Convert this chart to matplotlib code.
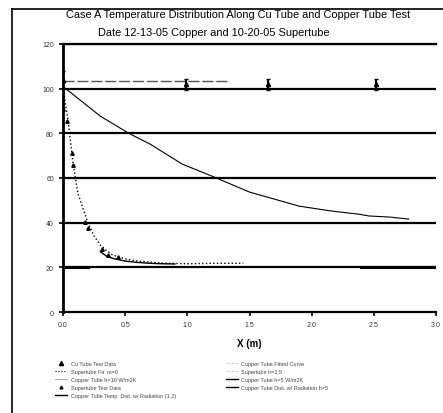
import matplotlib
matplotlib.use("Agg")
import matplotlib.pyplot as plt
from matplotlib.lines import Line2D

plt.rcParams['font.family'] = ['Liberation Sans', 'DejaVu Sans']

title_1 = "Case A Temperature Distribution Along Cu Tube and Copper Tube Test"
title_2 = "Date 12-13-05 Copper and 10-20-05 Supertube"
xlabel = "X (m)"
xticks = [0, 0.5, 1, 1.5, 2, 2.5, 3]
xticklabels = ["0.0", "0.5", "1.0", "1.5", "2.0", "2.5", "3.0"]
yticks = [0, 20, 40, 60, 80, 100, 120]

# Supertube test data (with error bars)
st_x = [0.0, 0.99, 1.65, 2.52]
st_y = [104.0, 102.0, 102.0, 102.0]
st_err = [4.0, 2.5, 2.5, 2.5]

# Cu tube test data
cu_x = [0.0, 0.03, 0.07, 0.08, 0.18, 0.20, 0.31, 0.36, 0.44]
cu_y = [91.0, 85.5, 71.0, 66.0, 40.5, 37.5, 28.0, 25.5, 24.5]

# Copper tube fitted curve (dotted)
cf_x = [0.0, 0.04, 0.08, 0.12, 0.16, 0.20, 0.25, 0.30, 0.35, 0.40, 0.50, 0.60, 0.80, 1.00, 1.20, 1.45]
cf_y = [100.0, 86.0, 67.0, 53.0, 46.5, 40.0, 34.0, 30.0, 27.5, 25.5, 23.8, 22.8, 21.9, 21.6, 21.8, 21.8]

# Copper tube equation (solid)
ce_x = [0.30, 0.35, 0.40, 0.50, 0.60, 0.70, 0.80, 0.90]
ce_y = [27.0, 25.0, 24.0, 22.8, 22.2, 21.8, 21.6, 21.5]

# Supertube fit (horizontal)
sf_x = [0.0, 1.32]
sf_y = [103.5, 103.5]

# Supertube fin curve (exponential decay)
sc_x = [0.0, 0.30, 0.53, 0.70, 0.96, 1.20, 1.50, 1.90, 2.16, 2.38, 2.46, 2.63, 2.78]
sc_y = [101.0, 87.7, 80.0, 75.2, 66.2, 60.8, 53.7, 47.4, 45.2, 43.8, 43.0, 42.5, 41.6]

# Ambient / reference lines
amb_x = [2.4, 3.0]
amb_y = [20.0, 20.0]
amb2_x = [0.0, 0.2]
amb2_y = [20.0, 20.0]

fig = plt.figure(figsize=(4.43, 4.14), dpi=100)
ax = fig.add_axes([63/443, 1-313/414, (436-63)/443, (313-45)/414])

for yv in yticks[1:]:
    ax.axhline(yv, color='black', lw=1.6, zorder=1)

ax.errorbar(st_x, st_y, yerr=st_err, fmt='^', color='black', ms=3, capsize=1.5, elinewidth=1.5, zorder=4)
ax.plot(cu_x, cu_y, '^', color='black', ms=2.5, zorder=4)
ax.plot(cf_x, cf_y, ':', color='black', lw=1.0, zorder=3)
ax.plot(ce_x, ce_y, '-', color='black', lw=1.0, zorder=3)
ax.plot(sf_x, sf_y, '--', color='#555555', lw=1.0, dashes=(8, 2), zorder=3)
ax.plot(sc_x, sc_y, '-', color='black', lw=0.8, zorder=3)
ax.plot(amb_x, amb_y, '-', color='black', lw=2.2, zorder=3)
ax.plot(amb2_x, amb2_y, '-', color='black', lw=2.2, zorder=3)

ax.set_xlim(0, 3)
ax.set_ylim(0, 120)
ax.set_xticks(xticks)
ax.set_xticklabels(xticklabels)
ax.set_yticks(yticks)
ax.tick_params(labelsize=5, length=3, width=1.2, color='black', labelcolor='#333333')
ax.spines['right'].set_visible(False)
ax.spines['left'].set_linewidth(2.0)
ax.spines['bottom'].set_linewidth(1.6)
ax.spines['top'].set_linewidth(1.6)
ax.set_xlabel(xlabel, fontsize=7, fontweight='bold', labelpad=7)

fig.text(238/443, 1-15/414, title_1, ha='center', va='center', fontsize=7.9)
fig.text(214/443, 1-33/414, title_2, ha='center', va='center', fontsize=7.9)

# outer chart frame
fig.add_artist(Line2D([12/443, 12/443], [0, 1-10/414], transform=fig.transFigure, color='black', lw=1.2))
fig.add_artist(Line2D([12/443, 1], [1-10/414, 1-10/414], transform=fig.transFigure, color='black', lw=1.2))

handles = [
    Line2D([], [], ls='none', marker='^', color='black', ms=3),
    Line2D([], [], ls=':', color='black', lw=0.8),
    Line2D([], [], ls='-', color='#888888', lw=0.5),
    Line2D([], [], ls='none', marker='^', color='black', ms=2),
    Line2D([], [], ls='-', color='black', lw=1.0),
    Line2D([], [], ls=':', color='#888888', lw=0.5),
    Line2D([], [], ls=':', color='#888888', lw=0.5),
    Line2D([], [], ls='-', color='black', lw=1.0),
    Line2D([], [], ls='-', color='black', lw=1.0),
]
labels = [
    "Cu Tube Test Data",
    "Supertube Fit  m=0",
    "Copper Tube h=10 W/m2K",
    "Supertube Test Data",
    "Copper Tube Temp. Dist. w/ Radiation (1.2)",
    "Copper Tube Fitted Curve",
    "Supertube h=1.5",
    "Copper Tube h=5 W/m2K",
    "Copper Tube Dist. w/ Radiation h=5",
]
leg = fig.legend(handles, labels, loc='upper left', bbox_to_anchor=(50/443, 1-357/414),
                 ncol=2, fontsize=4, frameon=False, handlelength=2.2, handletextpad=0.6,
                 labelspacing=0.55, columnspacing=9)
for t in leg.get_texts():
    t.set_color('#444444')

fig.savefig("out.png", dpi=100)
